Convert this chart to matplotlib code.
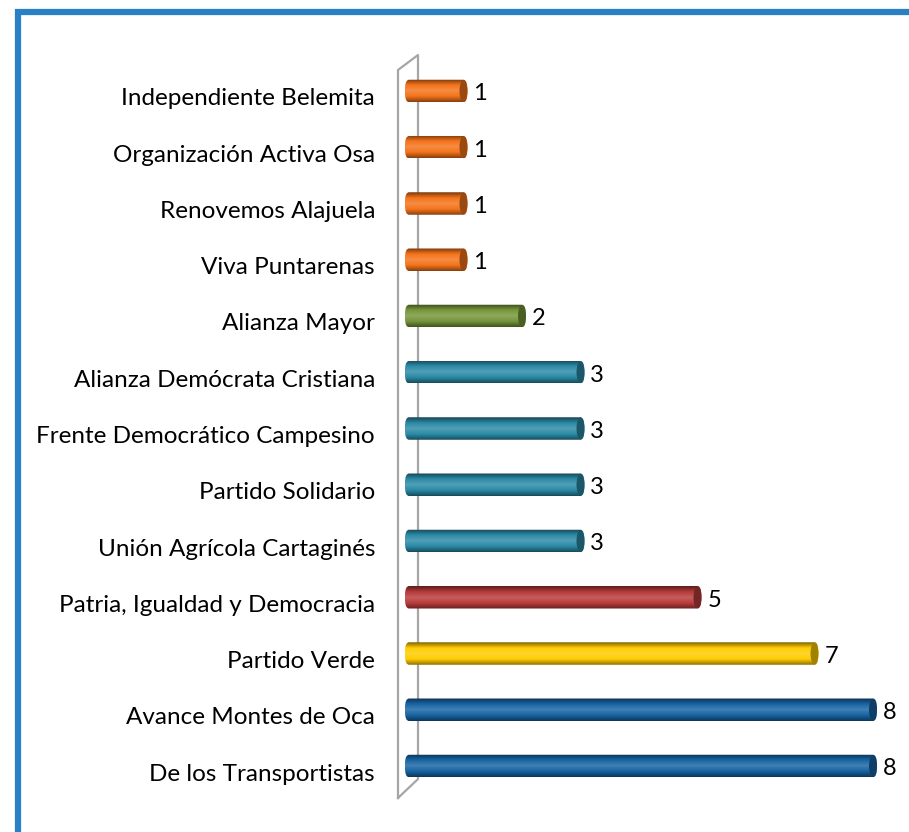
import numpy as np
import matplotlib
matplotlib.use("Agg")
import matplotlib.pyplot as plt
import matplotlib.transforms as mtransforms
from matplotlib.patches import FancyBboxPatch, Ellipse
from matplotlib.colors import LinearSegmentedColormap, to_rgb

# data, bottom to top
partidos = ['De los Transportistas', 'Avance Montes de Oca', 'Partido Verde',
            'Patria, Igualdad y Democracia', 'Unión Agrícola Cartaginés',
            'Partido Solidario', 'Frente Democrático Campesino',
            'Alianza Demócrata Cristiana', 'Alianza Mayor', 'Viva Puntarenas',
            'Renovemos Alajuela', 'Organización Activa Osa',
            'Independiente Belemita']
valores = [8, 8, 7, 5, 3, 3, 3, 3, 2, 1, 1, 1, 1]
colores = ['#1764a3', '#1764a3', '#ffcc00', '#b83b3b', '#2b8aa6', '#2b8aa6',
           '#2b8aa6', '#2b8aa6', '#76963a', '#f4731a', '#f4731a', '#f4731a',
           '#f4731a']

plt.rcParams['font.family'] = ['Lato', 'DejaVu Sans']

W, H = 909, 832
fig = plt.figure(figsize=(W / 100, H / 100), dpi=100)

# background overlay in pixel coords (frame + 3d wall)
bg = fig.add_axes([0, 0, 1, 1], zorder=0)
bg.set_xlim(0, W)
bg.set_ylim(H, 0)
bg.axis('off')
bg.plot([18, 18, W], [H, 11.5, 11.5], color='#2a80c4', lw=4.5,
        solid_capstyle='butt', solid_joinstyle='miter')
bg.plot([398, 398, 418, 418, 398], [798, 70, 55, 779, 798],
        color='#a6a6a6', lw=1.6)

# bars
x0 = 409
unit = 58.5  # px per unit
xmin = -0.15
left_px = x0 + xmin * unit
ax = fig.add_axes([left_px / W, (H - 801) / H, (W - left_px) / W, 745 / H], zorder=1)
ax.patch.set_alpha(0)
for s in ax.spines.values():
    s.set_visible(False)
ax.set_xticks([])

bh = 0.40
cap = 8 / unit
for i, (v, c) in enumerate(zip(valores, colores)):
    base = np.array(to_rgb(c))
    light = np.clip(base + (1 - base) * 0.18, 0, 1)
    dark = base * 0.55
    cmap = LinearSegmentedColormap.from_list('g', [dark, base, light, base, dark * 0.9])
    grad = np.linspace(0, 1, 64).reshape(-1, 1)
    box = FancyBboxPatch((-0.07, i - bh / 2), v + 0.07, bh,
                         boxstyle='round,pad=0,rounding_size=0.07',
                         mutation_aspect=2.6, fc='none', ec='none')
    ax.add_patch(box)
    im = ax.imshow(grad, cmap=cmap, aspect='auto', origin='lower',
                   extent=[-0.07, v, i - bh / 2, i + bh / 2], zorder=2)
    im.set_clip_path(box)
    ax.add_patch(Ellipse((v - cap / 2, i), cap, bh * 0.97, fc=dark * 1.15,
                         ec='none', zorder=3))
    ax.text(v + 0.1, i - 0.05, str(v), va='center', ha='left', fontsize=17,
            color='black')

ax.set_xlim(xmin, xmin + (W - left_px) / unit)
ax.set_ylim(-0.622, 12.622)
ax.set_yticks(range(len(partidos)))
ax.set_yticklabels(partidos, fontsize=17.5)
ax.tick_params(axis='y', length=0, pad=(left_px - 375) * 0.72)
shift = mtransforms.ScaledTranslation(0, -0.06, fig.dpi_scale_trans)
for lab in ax.get_yticklabels():
    lab.set_transform(lab.get_transform() + shift)

fig.savefig('out.png', dpi=100)
